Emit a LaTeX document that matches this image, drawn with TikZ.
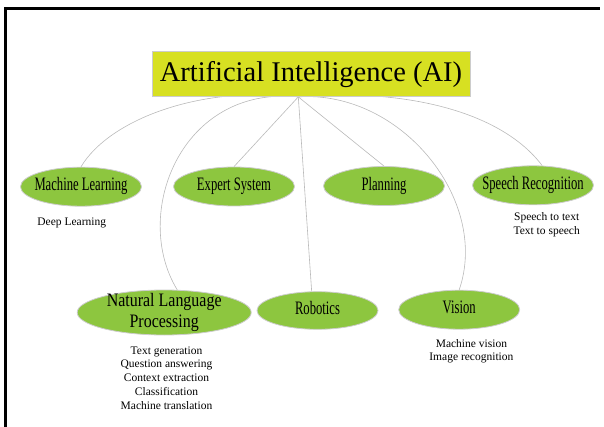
\documentclass[tikz,border=0pt]{standalone}
\usepackage{fontspec}
\setmainfont{Liberation Serif}
\newfontfamily\condserif[FakeStretch=0.665]{Liberation Serif}
\newfontfamily\nlpserif[FakeStretch=0.84]{Liberation Serif}
\usepackage{xcolor}
\usepackage{tikz}
\usetikzlibrary{positioning, shapes.geometric, backgrounds}

\definecolor{titleyellow}{RGB}{215,224,34}
\definecolor{leafgreen}{RGB}{141,198,63}
\definecolor{linkgray}{RGB}{185,185,185}

\begin{document}
\begin{tikzpicture}[
    x=1pt, y=-1pt,
    headbox/.style={rectangle, draw=black!20, fill=titleyellow, minimum width=318pt, minimum height=45pt, inner sep=0pt, font=\fontsize{28.5}{34}\selectfont},
    bubble/.style={ellipse, draw=black!20, line width=0.8pt, fill=leafgreen, align=center, inner ysep=0pt},
    topic/.style={bubble, minimum width=121pt, minimum height=39pt, inner xsep=-8pt, text height=12.5pt, text depth=4pt, font=\condserif\fontsize{19}{21}\selectfont},
    subnote/.style={inner sep=0pt, align=center, font=\fontsize{11.5}{13.8}\selectfont},
    link/.style={draw=linkgray, line width=0.6pt}
]
    \useasboundingbox (0,0) rectangle (604,427);

    % Frame lines
    \draw[line width=3pt] (5.8,427) -- (5.8,8.5) -- (600,8.5);

    % Root
    \node[headbox] (ai) at (310.9,74.2) {Artificial Intelligence (AI)};
    \coordinate (hub) at ([xshift=-12.6pt]ai.south);

    % Main fields
    \node[topic] (ml) at (81,186.7) {Machine Learning};
    \node[topic] (expert) at (234,186.5) {Expert System};
    \node[topic] (planning) at (384,186) {Planning};
    \node[topic] (speech) at (533,185.3) {Speech Recognition};
    \node[bubble, minimum width=174pt, minimum height=45pt, inner xsep=0pt, inner ysep=-4pt, font=\nlpserif\fontsize{19}{21}\selectfont] (nlp) at (164.2,312.5) {Natural Language\\Processing};
    \node[topic, minimum height=37.6pt] (robotics) at (317.5,310.5) {Robotics};
    \node[topic] (vision) at (459.2,309.7) {Vision};

    % Sub-fields
    \node[subnote, below=10.7pt of ml, xshift=-9.3pt] (mlnote) {Deep Learning};
    \node[subnote, below=7.6pt of speech, xshift=13.7pt] (speechnote) {Speech to text\\Text to speech};
    \node[subnote, below=10.9pt of nlp, xshift=2.3pt] (nlpnote) {Text generation\\Question answering\\Context extraction\\Classification\\Machine translation};
    \node[subnote, below=9.3pt of vision, xshift=12.2pt] (visionnote) {Machine vision\\Image recognition};

    % Connections
    \begin{scope}[on background layer]
        \draw[link] (hub) .. controls +(-98,-12) and +(28,-47) .. (ml.north);
        \draw[link] (hub) .. controls +(-118,-12) and +(-46,-75) .. (nlp.60);
        \draw[link] (hub) -- (expert.north);
        \draw[link] (hub) -- (robotics.107);
        \draw[link] (hub) -- (planning.north);
        \draw[link] (hub) .. controls +(102,-7) and +(31,-90) .. (vision.north);
        \draw[link] (hub) .. controls +(102,-9) and +(-42,-56) .. (speech.65);
    \end{scope}

\end{tikzpicture}
\end{document}
